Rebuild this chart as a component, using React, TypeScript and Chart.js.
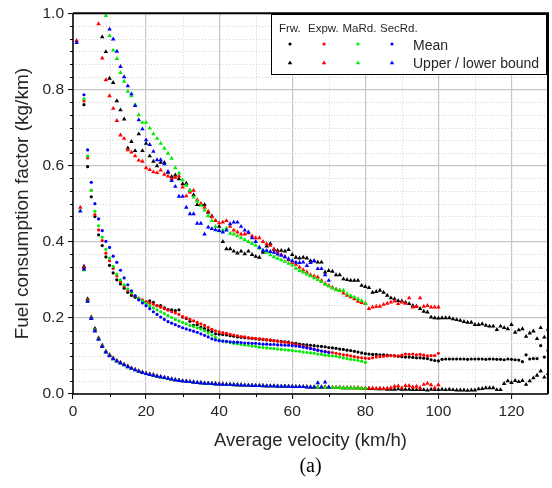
import React, { useEffect, useRef } from "react";
import { Chart, registerables } from "chart.js";

Chart.register(...registerables);

// ---------- data (velocity bins of 1 km/h, value arrays start at given velocity) ----------
const frwMeanStart = 3;
const frwMean = [
  0.76, 0.597, 0.518, 0.466, 0.418, 0.39, 0.36, 0.338, 0.318, 0.3,
  0.289, 0.278, 0.267, 0.259, 0.254, 0.25, 0.245, 0.241, 0.245, 0.241,
  0.232, 0.232, 0.226, 0.222, 0.221, 0.219, 0.221, 0.202, 0.198, 0.191,
  0.18, 0.182, 0.175, 0.172, 0.167, 0.164, 0.158, 0.157, 0.156, 0.155,
  0.153, 0.152, 0.15, 0.149, 0.148, 0.147, 0.146, 0.145, 0.144, 0.143,
  0.142, 0.141, 0.14, 0.139, 0.138, 0.137, 0.136, 0.134, 0.133, 0.131,
  0.13, 0.129, 0.128, 0.127, 0.126, 0.125, 0.124, 0.122, 0.121, 0.12,
  0.118, 0.117, 0.115, 0.114, 0.112, 0.11, 0.108, 0.106, 0.105, 0.104,
  0.104, 0.103, 0.103, 0.102, 0.101, 0.1, 0.099, 0.098, 0.097, 0.097,
  0.096, 0.095, 0.095, 0.094, 0.093, 0.09, 0.088, 0.087, 0.091, 0.092,
  0.092, 0.092, 0.092, 0.092, 0.092, 0.091, 0.092, 0.092, 0.092, 0.092,
  0.091, 0.092, 0.092, 0.091, 0.091, 0.09, 0.092, 0.091, 0.09, 0.089,
  0.085, 0.103, 0.092, 0.093, 0.093, 0.127, 0.097, 0.114,
];
const expMeanStart = 3;
const expMean = [
  0.77, 0.62, 0.535, 0.471, 0.431, 0.403, 0.37, 0.35, 0.33, 0.31,
  0.295, 0.283, 0.272, 0.264, 0.257, 0.252, 0.247, 0.243, 0.239, 0.236,
  0.232, 0.228, 0.224, 0.22, 0.216, 0.213, 0.209, 0.203, 0.2, 0.196,
  0.192, 0.188, 0.184, 0.18, 0.175, 0.17, 0.166, 0.163, 0.161, 0.159,
  0.157, 0.155, 0.153, 0.151, 0.15, 0.148, 0.147, 0.146, 0.145, 0.144,
  0.143, 0.142, 0.14, 0.139, 0.137, 0.136, 0.134, 0.132, 0.13, 0.128,
  0.126, 0.123, 0.12, 0.118, 0.115, 0.113, 0.112, 0.11, 0.109, 0.107,
  0.105, 0.103, 0.102, 0.1, 0.098, 0.096, 0.095, 0.094, 0.093, 0.095,
  0.097, 0.098, 0.099, 0.1, 0.101, 0.101, 0.1, 0.102, 0.105, 0.104,
  0.105, 0.103, 0.104, 0.102, 0.1, 0.101, 0.101, 0.107,
];
const maRdMeanStart = 3;
const maRdMean = [
  0.775, 0.625, 0.535, 0.48, 0.442, 0.412, 0.38, 0.357, 0.335, 0.315,
  0.3, 0.287, 0.276, 0.266, 0.258, 0.251, 0.245, 0.238, 0.232, 0.226,
  0.221, 0.216, 0.211, 0.206, 0.201, 0.196, 0.192, 0.188, 0.184, 0.18,
  0.177, 0.174, 0.171, 0.166, 0.16, 0.155, 0.149, 0.142, 0.139, 0.137,
  0.135, 0.133, 0.132, 0.13, 0.129, 0.128, 0.126, 0.125, 0.123, 0.122,
  0.121, 0.12, 0.119, 0.118, 0.117, 0.116, 0.115, 0.114, 0.113, 0.112,
  0.11, 0.109, 0.108, 0.107, 0.105, 0.104, 0.102, 0.101, 0.1, 0.099,
  0.097, 0.095, 0.093, 0.091, 0.09, 0.088, 0.086, 0.083,
];
const secRdMeanStart = 3;
const secRdMean = [
  0.786, 0.641, 0.556, 0.5, 0.46, 0.429, 0.401, 0.385, 0.362, 0.346,
  0.325, 0.305, 0.287, 0.271, 0.258, 0.247, 0.239, 0.232, 0.224, 0.216,
  0.209, 0.202, 0.196, 0.19, 0.186, 0.182, 0.178, 0.174, 0.171, 0.168,
  0.165, 0.162, 0.158, 0.154, 0.15, 0.145, 0.142, 0.14, 0.139, 0.138,
  0.137, 0.136, 0.136, 0.135, 0.134, 0.134, 0.133, 0.133, 0.132, 0.131,
  0.131, 0.13, 0.13, 0.129, 0.129, 0.128, 0.128, 0.127, 0.126, 0.125,
  0.123, 0.121, 0.119, 0.117, 0.115, 0.113, 0.111, 0.109,
];

const frwUpperStart = 8;
const frwUpper = [
  0.938, 0.899, 0.829, 0.818, 0.77, 0.746, 0.722, 0.646, 0.663, 0.639,
  0.683, 0.639, 0.658, 0.625, 0.611, 0.599, 0.608, 0.608, 0.582, 0.571,
  0.575, 0.565, 0.552, 0.553, 0.534, 0.523, 0.497, 0.497, 0.497, 0.477,
  0.467, 0.455, 0.44, 0.4, 0.381, 0.381, 0.375, 0.37, 0.375, 0.368,
  0.375, 0.366, 0.361, 0.359, 0.372, 0.388, 0.395, 0.38, 0.377, 0.377,
  0.375, 0.379, 0.366, 0.359, 0.357, 0.359, 0.357, 0.35, 0.349, 0.346,
  0.346, 0.32, 0.324, 0.322, 0.313, 0.313, 0.302, 0.3, 0.298, 0.298,
  0.298, 0.285, 0.282, 0.279, 0.267, 0.269, 0.272, 0.267, 0.259, 0.252,
  0.25, 0.245, 0.244, 0.241, 0.237, 0.232, 0.23, 0.224, 0.217, 0.215,
  0.202, 0.2, 0.199, 0.2, 0.2, 0.2, 0.197, 0.195, 0.193, 0.19,
  0.188, 0.188, 0.182, 0.182, 0.184, 0.18, 0.178, 0.178, 0.169, 0.178,
  0.174, 0.171, 0.182, 0.162, 0.168, 0.171, 0.151, 0.16, 0.165, 0.145,
  0.174, 0.149, 0.17,
];
const expUpperStart = 1;
const expUpper = [
  0.928, null, null, null, null, null, 0.972, 0.882, 0.825, 0.783,
  0.75, 0.718, 0.68, 0.671, 0.641, 0.635, 0.625, 0.614, 0.611, 0.594,
  0.589, 0.583, 0.581, 0.588, 0.577, 0.572, 0.565, 0.569, 0.572, 0.543,
  0.52, 0.53, 0.535, 0.51, 0.5, 0.49, 0.48, 0.465, 0.455, 0.449,
  0.451, 0.455, 0.44, 0.43, 0.425, 0.42, 0.42, 0.423, 0.415, 0.41,
  0.41, 0.4, 0.394, 0.39, 0.38, 0.372, 0.366, 0.36, 0.352, 0.345,
  0.34, 0.333, 0.326, 0.32, 0.313, 0.31, 0.307, 0.298, 0.29, 0.285,
  0.28, 0.275, 0.272, 0.265, 0.259, 0.255, 0.25, 0.243, 0.24, 0.238,
  0.224, 0.228, 0.23, 0.23, 0.235, 0.238, 0.241, 0.244, 0.237, 0.241,
  0.238, 0.252, 0.228, 0.23, 0.252, 0.23, 0.232, 0.228, 0.228, 0.228,
];
const maRdUpperStart = 9;
const maRdUpper = [
  0.994, 0.941, 0.903, 0.881, 0.844, 0.821, 0.795, 0.783, 0.76, 0.733,
  0.713, 0.713, 0.698, 0.683, 0.671, 0.658, 0.645, 0.632, 0.619, 0.594,
  0.58, 0.562, 0.548, 0.535, 0.517, 0.506, 0.495, 0.483, 0.468, 0.455,
  0.44, 0.428, 0.43, 0.435, 0.422, 0.42, 0.415, 0.41, 0.405, 0.4,
  0.395, 0.39, 0.383, 0.377, 0.372, 0.365, 0.36, 0.356, 0.352, 0.348,
  0.343, 0.338, 0.33, 0.324, 0.32, 0.315, 0.31, 0.305, 0.3, 0.295,
  0.288, 0.283, 0.278, 0.273, 0.272, 0.272, 0.263, 0.258, 0.254, 0.25,
  0.245, 0.238,
];
const secRdUpperStart = 1;
const secRdUpper = [
  0.923, null, null, null, null, null, null, null, null, 0.958,
  0.932, 0.9, 0.86, 0.833, 0.809, 0.788, 0.757, 0.72, 0.696, 0.667,
  0.655, 0.637, 0.615, 0.615, 0.604, 0.584, 0.56, 0.545, 0.519, 0.519,
  0.49, 0.473, 0.473, 0.448, 0.448, 0.42, 0.438, 0.434, 0.431, 0.429,
  0.425, 0.43, 0.447, 0.451, 0.451, 0.44, 0.43, 0.425, 0.41, 0.4,
  0.385, 0.377, 0.377, 0.374, 0.372, 0.367, 0.364, 0.36, 0.355, 0.35,
  0.346, 0.345, 0.346, 0.337, 0.345, 0.35, 0.329, 0.329, 0.313, 0.298,
];

const frwLowerStart = 3;
const frwLower = [
  0.335, 0.25, 0.202, 0.172, 0.147, 0.128, 0.112, 0.103, 0.094,
  0.088, 0.083, 0.078, 0.073, 0.068, 0.064, 0.061, 0.057, 0.054, 0.052,
  0.05, 0.047, 0.045, 0.043, 0.041, 0.039, 0.037, 0.036, 0.034, 0.033,
  0.032, 0.031, 0.03, 0.029, 0.028, 0.028, 0.027, 0.027, 0.026, 0.026,
  0.025, 0.025, 0.025, 0.024, 0.024, 0.023, 0.023, 0.023, 0.022, 0.022,
  0.022, 0.021, 0.021, 0.021, 0.021, 0.02, 0.02, 0.02, 0.02, 0.019,
  0.019, 0.019, 0.019, 0.018, 0.018, 0.018, 0.018, 0.018, 0.017, 0.017,
  0.017, 0.017, 0.016, 0.016, 0.016, 0.016, 0.016, 0.015, 0.015,
  0.014, 0.014, 0.013, 0.013, 0.013, 0.012, 0.012, 0.012, 0.013, 0.012,
  0.012, 0.012, 0.011, 0.011, 0.011, 0.011, 0.01, 0.012, 0.011, 0.011,
  0.012, 0.011, 0.012, 0.011, 0.01, 0.01, 0.01, 0.009, 0.01, 0.01,
  0.013, 0.014, 0.016, 0.016, 0.016, 0.011, 0.011, 0.027, 0.034, 0.03,
  0.035, 0.032, 0.035, 0.025, 0.034, 0.042, 0.049, 0.06, 0.044, 0.053,
];
const expLowerStart = 2;
const expLower = [
  0.49, 0.332, 0.247, 0.2, 0.168, 0.145, 0.126, 0.111, 0.102, 0.093,
  0.087, 0.082, 0.077, 0.072, 0.068, 0.064, 0.06, 0.057, 0.054, 0.052,
  0.05, 0.047, 0.045, 0.043, 0.041, 0.039, 0.037, 0.036, 0.034, 0.033,
  0.032, 0.031, 0.03, 0.029, 0.028, 0.028, 0.027, 0.027, 0.026, 0.026,
  0.025, 0.025, 0.025, 0.024, 0.024, 0.023, 0.023, 0.023, 0.022, 0.022,
  0.022, 0.021, 0.021, 0.021, 0.021, 0.02, 0.02, 0.02, 0.02, 0.019,
  0.019, 0.019, 0.019, 0.018, 0.018, 0.018, 0.018, 0.018, 0.017, 0.017,
  0.017, 0.017, 0.016, 0.016, 0.016, 0.016, 0.016, 0.015, 0.015,
  0.015, 0.015, 0.014, 0.015, 0.014, 0.015, 0.016, 0.02, 0.021, 0.016,
  0.022, 0.022, 0.018, 0.02, 0.016, 0.025, 0.028, 0.024, 0.016, 0.024,
];
const maRdLowerStart = 2;
const maRdLower = [
  0.482, 0.326, 0.244, 0.199, 0.167, 0.144, 0.125, 0.11, 0.101, 0.092,
  0.086, 0.081, 0.076, 0.071, 0.067, 0.063, 0.059, 0.056, 0.053, 0.051,
  0.049, 0.046, 0.044, 0.042, 0.04, 0.038, 0.037, 0.035, 0.034, 0.033,
  0.032, 0.031, 0.03, 0.029, 0.028, 0.027, 0.027, 0.026, 0.026, 0.025,
  0.025, 0.025, 0.024, 0.024, 0.023, 0.023, 0.023, 0.022, 0.022, 0.022,
  0.021, 0.021, 0.021, 0.021, 0.02, 0.02, 0.02, 0.02, 0.019, 0.019,
  0.019, 0.019, 0.018, 0.018, 0.018, 0.018, 0.018, 0.017, 0.017, 0.017,
  0.017, 0.016, 0.016, 0.016, 0.016, 0.016, 0.015, 0.015, 0.015,
];
const secRdLowerStart = 2;
const secRdLower = [
  0.48, 0.328, 0.243, 0.198, 0.165, 0.143, 0.124, 0.11, 0.1, 0.092,
  0.086, 0.081, 0.076, 0.071, 0.067, 0.063, 0.059, 0.056, 0.053, 0.051,
  0.049, 0.047, 0.045, 0.043, 0.041, 0.039, 0.037, 0.035, 0.034, 0.033,
  0.032, 0.031, 0.03, 0.029, 0.028, 0.028, 0.027, 0.026, 0.026, 0.025,
  0.025, 0.025, 0.024, 0.024, 0.023, 0.023, 0.023, 0.022, 0.022, 0.022,
  0.021, 0.021, 0.021, 0.021, 0.02, 0.02, 0.02, 0.02, 0.019, 0.019,
  0.019, 0.019, 0.018, 0.018, 0.018, 0.029, 0.018, 0.031, 0.018,
];

const groupLabels = ["Frw.", "Expw.", "MaRd.", "SecRd."];
const xTickStep = 20;
const yTickStep = 0.2;

// ---------- styling ----------
const COLORS = ["#000000", "#ff0000", "#00ee00", "#0000ff"];
const FONT = "'Liberation Sans', Arial, sans-serif";
const TEXT = "#262626";

type P = { x: number; y: number };
function toPoints(start: number, arr: (number | null)[]): P[] {
  const out: P[] = [];
  arr.forEach((v, i) => {
    if (v !== null && v !== undefined) out.push({ x: start + i, y: v });
  });
  return out;
}

const frame = {
  id: "frame",
  beforeDatasetsDraw(chart: any) {
    const { ctx, chartArea: a, scales } = chart;
    const xs = scales.x;
    const ys = scales.y;
    ctx.save();
    ctx.strokeStyle = "#d2d2d2";
    ctx.lineWidth = 1;
    ctx.setLineDash([1, 2]);
    for (let v = 10; v < 130; v += 20) {
      const px = Math.round(xs.getPixelForValue(v)) + 0.5;
      ctx.beginPath();
      ctx.moveTo(px, a.top);
      ctx.lineTo(px, a.bottom);
      ctx.stroke();
    }
    for (let k = 1; k < 30; k++) {
      if (k % 6 === 0) continue;
      const py = Math.round(ys.getPixelForValue(k / 30)) + 0.5;
      ctx.beginPath();
      ctx.moveTo(a.left, py);
      ctx.lineTo(a.right, py);
      ctx.stroke();
    }
    ctx.setLineDash([]);
    ctx.strokeStyle = "#000";
    ctx.lineWidth = 1;
    for (let v = 10; v < 130; v += 20) {
      const px = Math.round(xs.getPixelForValue(v)) + 0.5;
      ctx.beginPath();
      ctx.moveTo(px, a.bottom);
      ctx.lineTo(px, a.bottom + 3);
      ctx.stroke();
    }
    for (let k = 1; k < 30; k++) {
      if (k % 6 === 0) continue;
      const py = Math.round(ys.getPixelForValue(k / 30)) + 0.5;
      ctx.beginPath();
      ctx.moveTo(a.left - 3, py);
      ctx.lineTo(a.left, py);
      ctx.stroke();
    }
    ctx.restore();
  },
  afterDraw(chart: any) {
    const { ctx, chartArea: a } = chart;
    ctx.save();
    // frame
    ctx.strokeStyle = "#000";
    ctx.lineWidth = 1.5;
    ctx.beginPath();
    ctx.moveTo(a.left, a.top);
    ctx.lineTo(a.left, a.bottom);
    ctx.lineTo(a.right, a.bottom);
    ctx.stroke();
    ctx.lineWidth = 2;
    ctx.beginPath();
    ctx.moveTo(a.left, a.top);
    ctx.lineTo(a.right, a.top);
    ctx.lineTo(a.right, a.bottom);
    ctx.stroke();

    // legend box
    const bx = 271, by = 14, bw = 275, bh = 60;
    ctx.fillStyle = "#fff";
    ctx.fillRect(bx, by, bw, bh);
    ctx.lineWidth = 1;
    ctx.strokeStyle = "#000";
    ctx.strokeRect(bx + 0.5, by + 0.5, bw, bh);

    ctx.fillStyle = TEXT;
    ctx.textBaseline = "alphabetic";
    ctx.textAlign = "left";
    ctx.font = `11.5px ${FONT}`;
    const hx = [279, 308, 342.5, 380];
    groupLabels.forEach((t, i) => ctx.fillText(t, hx[i], 31.5));
    ctx.font = `14px ${FONT}`;
    ctx.fillText("Mean", 413, 50);
    ctx.fillText("Upper / lower bound", 413, 68);
    const mx = [290, 324, 358, 392];
    mx.forEach((x, i) => {
      ctx.fillStyle = COLORS[i];
      ctx.beginPath();
      ctx.arc(x, 44, 1.6, 0, Math.PI * 2);
      ctx.fill();
      const r = 2.6;
      const y = 63;
      ctx.beginPath();
      ctx.moveTo(x, y - r);
      ctx.lineTo(x + r * 0.866, y + r * 0.5);
      ctx.lineTo(x - r * 0.866, y + r * 0.5);
      ctx.closePath();
      ctx.fill();
    });

    // axis titles
    ctx.fillStyle = TEXT;
    ctx.textAlign = "center";
    ctx.textBaseline = "middle";
    ctx.font = `18.5px ${FONT}`;
    ctx.fillText("Average velocity (km/h)", (a.left + a.right) / 2, 441);
    ctx.save();
    ctx.translate(23, (a.top + a.bottom) / 2);
    ctx.rotate(-Math.PI / 2);
    ctx.font = `19px ${FONT}`;
    ctx.fillText("Fuel consumption factor (kg/km)", 0, 0);
    ctx.restore();
    ctx.fillStyle = "#000";
    ctx.font = `20px 'Liberation Serif', 'Times New Roman', serif`;
    ctx.fillText("(a)", (a.left + a.right) / 2, 467);
    ctx.restore();
  },
};

export default function App() {
  const ref = useRef<HTMLCanvasElement>(null);
  useEffect(() => {
    if (!ref.current) return;
    const mk = (label: string, data: P[], color: string, tri: boolean, order: number) => ({
      label,
      data,
      showLine: false,
      backgroundColor: color,
      borderColor: color,
      pointBackgroundColor: color,
      pointBorderWidth: 0,
      pointStyle: tri ? "triangle" : "circle",
      pointRadius: tri ? 2.6 : 1.6,
      order,
    });
    const datasets = [
      mk("Frw. mean", toPoints(frwMeanStart, frwMean), COLORS[0], false, 3),
      mk("Frw. upper", toPoints(frwUpperStart, frwUpper), COLORS[0], true, 3),
      mk("Frw. lower", toPoints(frwLowerStart, frwLower), COLORS[0], true, 3),
      mk("Expw. mean", toPoints(expMeanStart, expMean), COLORS[1], false, 2),
      mk("Expw. upper", toPoints(expUpperStart, expUpper), COLORS[1], true, 2),
      mk("Expw. lower", toPoints(expLowerStart, expLower), COLORS[1], true, 2),
      mk("MaRd. mean", toPoints(maRdMeanStart, maRdMean), COLORS[2], false, 1),
      mk("MaRd. upper", toPoints(maRdUpperStart, maRdUpper), COLORS[2], true, 1),
      mk("MaRd. lower", toPoints(maRdLowerStart, maRdLower), COLORS[2], true, 1),
      mk("SecRd. mean", toPoints(secRdMeanStart, secRdMean), COLORS[3], false, 0),
      mk("SecRd. upper", toPoints(secRdUpperStart, secRdUpper), COLORS[3], true, 0),
      mk("SecRd. lower", toPoints(secRdLowerStart, secRdLower), COLORS[3], true, 0),
    ];
    const chart = new Chart(ref.current, {
      type: "scatter",
      data: { datasets: datasets as any },
      options: {
        animation: false,
        responsive: false,
        devicePixelRatio: 1,
        layout: { padding: { top: 13, right: 4, left: 0, bottom: 0 } },
        plugins: { legend: { display: false }, tooltip: { enabled: false } },
        scales: {
          x: {
            type: "linear",
            min: 0,
            max: 130,
            afterFit: (s: any) => { s.height = 94; },
            ticks: {
              stepSize: xTickStep,
              includeBounds: false,
              color: TEXT,
              font: { family: FONT, size: 15.5 },
              padding: 3,
              maxRotation: 0,
            },
            grid: { color: "#c6c6c6", lineWidth: 1.2, tickColor: "#000", tickLength: 5, tickWidth: 1 },
            border: { display: false },
          },
          y: {
            type: "linear",
            min: 0,
            max: 1,
            afterFit: (s: any) => { s.width = 73; },
            ticks: {
              stepSize: yTickStep,
              color: TEXT,
              font: { family: FONT, size: 15.5 },
              padding: 4,
              callback: (v: any) => Number(v).toFixed(1),
            },
            grid: { color: "#c6c6c6", lineWidth: 1.2, tickColor: "#000", tickLength: 5, tickWidth: 1 },
            border: { display: false },
          },
        },
      },
      plugins: [frame],
    });
    return () => chart.destroy();
  }, []);
  return (
    <div style={{ position: "fixed", left: 0, top: 0, width: 552, height: 488, background: "#fff" }}>
      <canvas ref={ref} width={552} height={488} style={{ width: 552, height: 488 }} />
    </div>
  );
}
